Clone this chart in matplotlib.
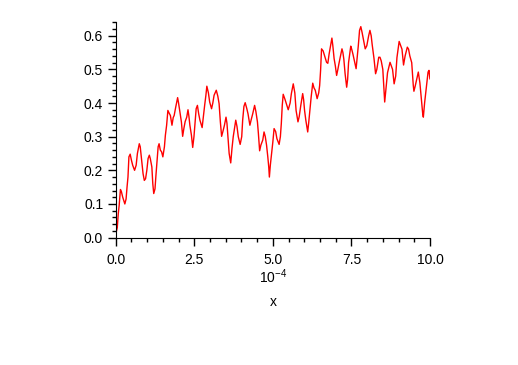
import numpy as np
import matplotlib
matplotlib.use("Agg")
import matplotlib.pyplot as plt
from matplotlib.ticker import MultipleLocator, FormatStrFormatter

plt.rcParams['font.family'] = ['Liberation Sans', 'DejaVu Sans']
plt.rcParams['mathtext.fontset'] = 'custom'
plt.rcParams['mathtext.rm'] = 'Liberation Sans'

# x in units of 1e-4
x = [0.00, 0.05, 0.08, 0.11, 0.15, 0.18, 0.22, 0.29, 0.33, 0.36,
     0.39, 0.42, 0.46, 0.50, 0.54, 0.60, 0.65, 0.69, 0.75, 0.78,
     0.83, 0.87, 0.91, 0.95, 0.99, 1.03, 1.07, 1.10, 1.15, 1.18,
     1.21, 1.25, 1.28, 1.31, 1.35, 1.38, 1.42, 1.46, 1.50, 1.55,
     1.58, 1.62, 1.66, 1.70, 1.74, 1.79, 1.83, 1.86, 1.91, 1.97,
     2.00, 2.05, 2.09, 2.13, 2.17, 2.21, 2.26, 2.30, 2.33, 2.36,
     2.41, 2.45, 2.49, 2.53, 2.56, 2.60, 2.64, 2.68, 2.75, 2.79,
     2.83, 2.87, 2.90, 2.95, 2.99, 3.05, 3.09, 3.13, 3.20, 3.25,
     3.29, 3.33, 3.37, 3.41, 3.46, 3.51, 3.54, 3.57, 3.61, 3.66,
     3.70, 3.74, 3.82, 3.86, 3.90, 3.96, 4.01, 4.04, 4.08, 4.12,
     4.17, 4.21, 4.27, 4.31, 4.36, 4.42, 4.46, 4.51, 4.54, 4.58,
     4.62, 4.68, 4.72, 4.76, 4.80, 4.84, 4.87, 4.89, 4.92, 4.96,
     5.00, 5.04, 5.09, 5.13, 5.20, 5.24, 5.27, 5.30, 5.33, 5.39,
     5.43, 5.49, 5.55, 5.59, 5.65, 5.70, 5.74, 5.80, 5.84, 5.89,
     5.95, 5.98, 6.01, 6.05, 6.11, 6.14, 6.18, 6.22, 6.27, 6.31,
     6.35, 6.41, 6.46, 6.49, 6.52, 6.55, 6.60, 6.66, 6.71, 6.75,
     6.79, 6.84, 6.88, 6.91, 6.95, 6.99, 7.03, 7.07, 7.11, 7.20,
     7.23, 7.26, 7.30, 7.35, 7.38, 7.41, 7.48, 7.51, 7.55, 7.65,
     7.69, 7.72, 7.76, 7.80, 7.84, 7.88, 7.94, 7.99, 8.05, 8.09,
     8.13, 8.16, 8.22, 8.27, 8.31, 8.37, 8.41, 8.45, 8.50, 8.56,
     8.61, 8.65, 8.73, 8.77, 8.81, 8.86, 8.91, 8.95, 9.02, 9.07,
     9.11, 9.16, 9.21, 9.28, 9.32, 9.36, 9.42, 9.47, 9.49, 9.53,
     9.63, 9.68, 9.72, 9.77, 9.79, 9.83, 9.90, 9.94, 9.97, 10.00]

y = [0.010, 0.030, 0.070, 0.096, 0.143, 0.137, 0.121, 0.100, 0.115, 0.150,
     0.180, 0.240, 0.248, 0.230, 0.215, 0.200, 0.215, 0.250, 0.279, 0.270,
     0.225, 0.190, 0.170, 0.175, 0.200, 0.235, 0.245, 0.235, 0.210, 0.160,
     0.131, 0.145, 0.185, 0.220, 0.270, 0.279, 0.260, 0.255, 0.240, 0.270,
     0.304, 0.334, 0.378, 0.370, 0.363, 0.334, 0.357, 0.363, 0.388, 0.416,
     0.400, 0.368, 0.344, 0.301, 0.325, 0.345, 0.358, 0.380, 0.360, 0.334,
     0.304, 0.268, 0.300, 0.349, 0.383, 0.393, 0.368, 0.349, 0.327, 0.360,
     0.393, 0.423, 0.450, 0.430, 0.403, 0.383, 0.400, 0.423, 0.438, 0.420,
     0.398, 0.344, 0.301, 0.315, 0.334, 0.358, 0.340, 0.300, 0.250, 0.222,
     0.265, 0.300, 0.349, 0.330, 0.300, 0.277, 0.300, 0.349, 0.390, 0.401,
     0.384, 0.368, 0.334, 0.350, 0.368, 0.393, 0.375, 0.344, 0.310, 0.258,
     0.275, 0.290, 0.314, 0.300, 0.275, 0.240, 0.210, 0.180, 0.215, 0.250,
     0.284, 0.324, 0.315, 0.294, 0.277, 0.300, 0.339, 0.393, 0.426, 0.410,
     0.398, 0.380, 0.400, 0.428, 0.457, 0.430, 0.378, 0.344, 0.360, 0.393,
     0.428, 0.410, 0.378, 0.349, 0.314, 0.340, 0.378, 0.418, 0.459, 0.445,
     0.438, 0.413, 0.430, 0.452, 0.497, 0.561, 0.555, 0.536, 0.521, 0.518,
     0.545, 0.571, 0.593, 0.570, 0.532, 0.510, 0.482, 0.500, 0.520, 0.561,
     0.550, 0.530, 0.487, 0.447, 0.470, 0.520, 0.569, 0.560, 0.545, 0.502,
     0.540, 0.570, 0.616, 0.627, 0.610, 0.590, 0.561, 0.570, 0.600, 0.616,
     0.600, 0.575, 0.532, 0.487, 0.500, 0.536, 0.536, 0.525, 0.500, 0.403,
     0.452, 0.490, 0.521, 0.510, 0.500, 0.457, 0.480, 0.535, 0.583, 0.570,
     0.560, 0.513, 0.540, 0.566, 0.560, 0.540, 0.520, 0.452, 0.435, 0.450,
     0.492, 0.460, 0.420, 0.368, 0.358, 0.400, 0.460, 0.492, 0.497, 0.472]

fig = plt.figure(figsize=(5.18, 3.65), dpi=100)
ax = fig.add_axes([0.2234, 0.349, 0.6066, 0.590])
ax.plot(x, y, color='red', lw=1.0)

ax.set_xlim(0, 10)
ax.set_ylim(0, 0.64)
ax.spines['top'].set_visible(False)
ax.spines['right'].set_visible(False)
ax.xaxis.set_major_locator(MultipleLocator(2.5))
ax.xaxis.set_minor_locator(MultipleLocator(0.5))
ax.yaxis.set_major_locator(MultipleLocator(0.1))
ax.yaxis.set_minor_locator(MultipleLocator(0.02))
ax.xaxis.set_major_formatter(FormatStrFormatter('%.1f'))
ax.yaxis.set_major_formatter(FormatStrFormatter('%.1f'))
ax.tick_params(which='major', length=6, width=1, labelsize=10, pad=3)
ax.tick_params(axis='x', which='major', pad=5)
ax.tick_params(which='minor', length=3, width=1)

fig.text(0.527, 0.243, r'$10^{-4}$', ha='center', va='center', fontsize=10)
fig.text(0.527, 0.172, 'x', ha='center', va='center', fontsize=10)

fig.savefig('out.png', dpi=100)
